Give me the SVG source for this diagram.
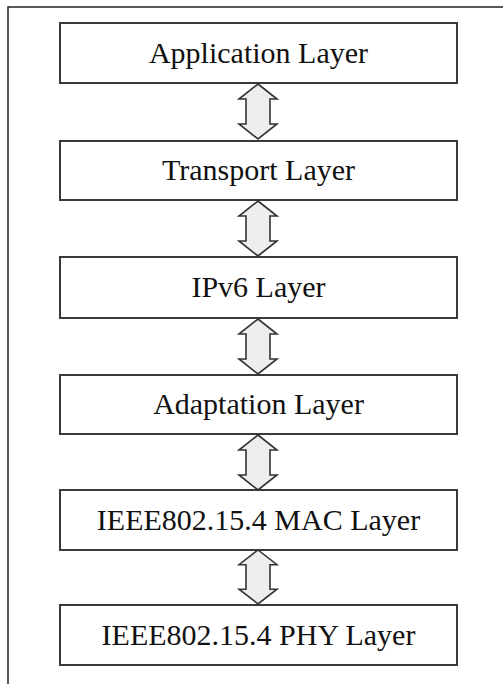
<svg xmlns="http://www.w3.org/2000/svg" width="503" height="684" viewBox="0 0 503 684">
  <defs>
    <style>
      .frame { fill: none; stroke: #222; stroke-width: 1.5; }
      .layer rect { fill: #fff; stroke: #3a3a3a; stroke-width: 2; }
      .layer text { font-family: "Liberation Serif", "Times New Roman", serif; font-size: 30px; fill: #111; text-anchor: middle; }
      .link { fill: #eeeeee; stroke: #333; stroke-width: 1.6; stroke-linejoin: miter; }
    </style>
    <!-- double-headed block arrow, top tip at origin, 55 px long -->
    <path id="dblArrow" d="M0,0 L19,15 L12,15 L12,40 L19,40 L0,55 L-19,40 L-12,40 L-12,15 L-19,15 Z"/>
  </defs>

  <rect width="503" height="684" fill="#fff"/>
  <rect class="frame" x="8" y="7" width="600" height="700"/>

  <g id="application" class="layer">
    <rect x="60" y="23" width="397" height="60"/>
    <text x="258.5" y="63">Application Layer</text>
  </g>
  <g id="transport" class="layer">
    <rect x="60" y="141" width="397" height="59"/>
    <text x="258.5" y="180">Transport Layer</text>
  </g>
  <g id="ipv6" class="layer">
    <rect x="60" y="257" width="397" height="61"/>
    <text x="258.5" y="297">IPv6 Layer</text>
  </g>
  <g id="adaptation" class="layer">
    <rect x="60" y="375" width="397" height="59"/>
    <text x="258.5" y="414">Adaptation Layer</text>
  </g>
  <g id="mac" class="layer">
    <rect x="60" y="490" width="397" height="60"/>
    <text x="258.5" y="530">IEEE802.15.4 MAC Layer</text>
  </g>
  <g id="phy" class="layer">
    <rect x="60" y="605" width="397" height="60"/>
    <text x="258.5" y="645">IEEE802.15.4 PHY Layer</text>
  </g>

  <g id="connectors">
    <use href="#dblArrow" class="link" transform="translate(258,84)"/>
    <use href="#dblArrow" class="link" transform="translate(258,201)"/>
    <use href="#dblArrow" class="link" transform="translate(258,319)"/>
    <use href="#dblArrow" class="link" transform="translate(258,435)"/>
    <use href="#dblArrow" class="link" transform="translate(258,550) scale(1,0.98)"/>
  </g>
</svg>
